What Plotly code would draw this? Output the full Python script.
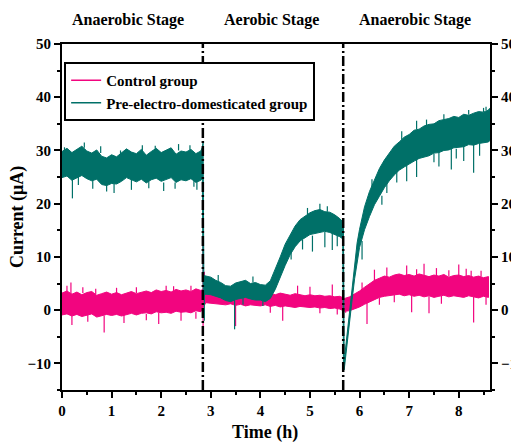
import plotly.graph_objects as go

# ---------------- data ----------------
stage_labels = ["Anaerobic Stage", "Aerobic Stage", "Anaerobic Stage"]
stage_centers = [1.33, 4.23, 7.12]
stage_switch = [2.84, 5.67]

# Pre-electro-domesticated group: noisy band (lower / upper envelope)
teal_t = [0.0, 0.1, 0.2, 0.3, 0.4, 0.5, 0.6, 0.7, 0.8, 0.9,
          1.0, 1.1, 1.2, 1.3, 1.4, 1.5, 1.6, 1.7, 1.8, 1.9,
          2.0, 2.1, 2.2, 2.3, 2.4, 2.5, 2.6, 2.7, 2.8, 2.83,
          2.845, 2.86,
          2.9, 3.0, 3.1, 3.2, 3.3, 3.4, 3.5, 3.6, 3.7, 3.8, 3.9,
          4.0, 4.1, 4.2, 4.3, 4.4, 4.5, 4.6, 4.7, 4.8, 4.9,
          5.0, 5.1, 5.2, 5.3, 5.4, 5.5, 5.6, 5.66,
          5.675, 5.69,
          5.75, 5.8, 5.85, 5.9, 5.95, 6.0,
          6.1, 6.2, 6.3, 6.4, 6.5, 6.6, 6.7, 6.8, 6.9, 7.0,
          7.1, 7.2, 7.3, 7.4, 7.5, 7.6, 7.7, 7.8, 7.9, 8.0,
          8.1, 8.2, 8.3, 8.4, 8.5, 8.6, 8.62]
teal_hi = [29.8, 30.4, 29.6, 30.2, 30.8, 29.9, 29.5, 30.1, 28.9, 28.6,
           29.2, 28.8, 29.6, 30.3, 29.7, 29.4, 30.2, 29.1, 29.8, 30.4,
           29.6, 30.0, 30.5, 29.3, 29.9, 29.7, 30.2, 29.4, 29.9, 30.6,
           31.5, 6.5,
           6.4, 6.2, 5.6, 5.2, 4.6, 4.5, 5.1, 5.3, 5.6, 5.0, 5.2,
           4.8, 4.7, 5.5, 7.6, 10.0, 12.4, 14.2, 15.8, 17.0, 17.6,
           18.3, 18.7, 18.9, 18.5, 18.4, 17.9, 17.2, 16.6,
           15.5, -9.5,
           -4.5, 0.2, 4.8, 8.9, 12.6, 15.2,
           19.4, 22.3, 24.6, 26.6, 28.2, 29.6, 30.8, 31.6, 32.5, 33.0,
           33.8, 34.0, 34.6, 34.9, 35.0, 35.6, 35.8, 36.0, 36.4, 36.2,
           36.8, 36.6, 37.0, 37.3, 37.2, 37.6, 37.9]
teal_lo = [24.9, 25.2, 24.4, 24.9, 25.3, 24.7, 24.3, 24.6, 23.6, 23.4,
           23.8, 23.7, 24.2, 24.9, 24.5, 24.1, 24.6, 23.9, 24.5, 24.8,
           24.2, 24.6, 24.9, 24.0, 24.5, 24.3, 24.7, 24.0, 24.4, 24.8,
           3.5, 2.8,
           3.0, 2.9, 2.6, 2.3, 1.8, 1.6, 2.0, 2.2, 2.4, 2.1, 1.9,
           1.9, 1.6, 2.2, 3.9, 6.3, 8.4, 10.4, 11.9, 13.0, 13.6,
           14.2, 14.4, 14.6, 14.8, 14.6, 14.2, 13.8, 13.4,
           -10.8, -11.2,
           -6.5, -2.2, 2.0, 5.9, 9.2, 11.8,
           15.1, 17.6, 19.8, 21.4, 23.0, 24.3, 25.4, 26.3, 26.9, 27.5,
           28.0, 28.5, 28.8, 29.0, 29.5, 29.6, 30.0, 30.1, 30.5, 30.6,
           30.7, 31.1, 31.0, 31.3, 31.5, 31.6, 31.8]

# Control group: noisy band
pink_t = [round(0.1 * i, 1) for i in range(87)]
pink_hi = [3.2, 3.6, 3.0, 3.4, 2.9, 3.3, 3.5, 2.8, 3.1, 3.4,
           3.0, 3.3, 2.9, 3.2, 3.5, 3.1, 3.4, 3.6, 3.3, 3.8,
           3.5, 3.7, 3.4, 3.9, 3.6, 3.8, 3.5, 4.0, 3.7, 4.2,
           3.8, 3.6, 3.4, 3.3, 3.5, 3.2, 3.4, 3.1, 3.3, 3.0,
           3.2, 3.0, 3.1, 2.9, 3.2, 3.0, 2.8, 3.1, 2.9, 2.7,
           2.9, 2.7, 2.8, 2.6, 2.7, 2.5, 2.6, 2.2, 2.5, 3.0,
           3.6, 4.3, 5.0, 5.6, 6.0, 6.4, 6.2, 6.6, 6.8, 6.5,
           6.7, 6.4, 6.8, 6.5, 6.3, 6.6, 6.4, 6.7, 6.2, 6.5,
           6.6, 6.3, 6.5, 6.2, 6.4, 6.1, 6.3]
pink_lo = [-0.9, -0.7, -1.1, -0.8, -1.2, -0.9, -0.7, -1.3, -1.0, -0.8,
           -1.0, -0.8, -1.1, -0.9, -0.6, -0.9, -0.6, -0.5, -0.7, -0.3,
           -0.5, -0.4, -0.6, -0.2, -0.4, -0.3, -0.5, -0.1, -0.3, 1.4,
           1.3, 1.2, 1.1, 1.0, 1.2, 0.9, 1.1, 0.8, 1.0, 0.9,
           0.8, 1.0, 0.7, 0.9, 0.6, 0.8, 0.7, 0.5, 0.7, 0.6,
           0.5, 0.6, 0.4, 0.5, 0.3, 0.4, 0.2, -0.2, -0.1, 0.2,
           0.6, 1.1, 1.6, 2.0, 2.4, 2.6, 2.8, 2.9, 3.0, 2.7,
           2.9, 2.6, 2.8, 2.5, 2.7, 2.4, 2.6, 2.8, 2.5, 2.7,
           2.6, 2.4, 2.7, 2.5, 2.3, 2.6, 2.4]

# isolated spikes: time, start value, end value
pink_spike_t = [0.18, 0.2, 0.52, 0.85, 1.25, 1.95, 2.4, 2.845, 2.87, 2.95, 3.5, 4.45,
                4.75, 5.0, 5.45, 5.72, 6.15, 6.3, 6.55, 6.95, 7.3, 7.55, 7.05, 7.4,
                8.0, 8.15, 8.3, 8.45,
                0.1, 0.42, 0.68, 1.1, 1.5, 1.7, 2.1, 2.25, 2.6, 2.7, 3.2, 3.9,
                4.2, 5.2, 5.55, 6.05, 6.4, 6.7, 7.15, 7.8, 7.65, 8.25, 8.55]
pink_spike_from = [3.0, -1.0, -0.8, -1.0, -0.8, -0.5, -0.3, -3.5, 4.0, 3.5, 1.0, 0.7,
                   2.9, 2.9, 2.6, 1.0, 1.5, 5.5, 6.2, 6.5, 6.5, 6.5, 3.0, 2.6,
                   6.5, 6.4, 2.5, 6.3,
                   3.5, 3.2, 3.0, 3.2, 3.2, -0.7, 3.6, 3.5, 3.6, -0.3, 3.3, 3.0,
                   0.8, 0.4, 0.3, 3.8, 2.4, 2.9, 6.6, 6.3, 2.7, 6.4, 2.5]
pink_spike_to = [5.2, -2.8, -2.2, -4.2, -2.4, -2.6, -2.0, 13.0, 7.2, 5.8, -3.0, -2.0,
                 4.6, 4.4, 4.8, -0.5, -2.6, 7.6, 8.0, 8.4, 8.7, 7.9, -0.4, -0.6,
                 8.6, 7.8, -2.3, 7.4,
                 4.6, 4.3, 4.0, 4.2, 4.3, -1.9, 4.6, 4.5, 4.6, -1.6, 4.3, 4.1,
                 -0.5, -0.6, -0.8, 5.2, 1.0, 1.5, 7.7, 7.5, 1.2, 7.4, 1.0]

teal_spike_t = [0.21, 0.45, 0.62, 0.9, 1.4, 2.05, 2.72, 2.87, 3.48, 4.85, 5.05, 5.3,
                5.45, 5.55, 6.05, 6.55, 6.75, 6.95, 7.15, 7.15, 7.6, 7.85, 8.1, 8.3, 8.55,
                0.05, 0.33, 0.78, 1.05, 1.18, 1.62, 1.75, 1.88, 2.28, 2.35, 2.58, 2.66,
                3.15, 3.65, 3.85, 4.05, 4.62, 4.95, 5.2, 5.35, 6.25, 6.45, 6.85, 7.35,
                7.5, 7.7, 7.95, 8.2, 8.42, 8.5]
teal_spike_from = [24.5, 30.5, 24.5, 23.5, 24.8, 24.0, 24.5, 3.0, 2.0, 13.2, 14.0, 14.7,
                   14.5, 14.0, 13.0, 24.5, 26.0, 27.5, 28.5, 34.0, 30.0, 30.5, 31.0, 31.2, 37.5,
                   29.5, 25.0, 29.5, 23.8, 28.8, 29.8, 24.2, 29.6, 24.0, 30.0, 30.0, 24.5,
                   5.4, 2.3, 5.2, 1.8, 11.0, 18.0, 18.8, 18.5, 23.0, 21.5, 32.0, 34.6,
                   29.4, 35.8, 30.3, 36.7, 31.3, 37.2]
teal_spike_to = [21.0, 31.5, 22.8, 22.3, 22.6, 22.4, 22.6, -2.0, -3.6, 11.4, 11.0, 11.8,
                 11.3, 12.0, 9.5, 22.0, 24.0, 24.2, 25.0, 35.6, 27.0, 26.4, 28.0, 25.8, 38.2,
                 30.6, 23.5, 30.8, 22.0, 30.0, 31.0, 22.9, 30.9, 22.8, 31.2, 31.0, 23.2,
                 6.6, 1.0, 6.3, 0.8, 9.5, 19.2, 20.0, 19.5, 24.6, 19.8, 33.6, 35.8,
                 27.8, 36.8, 28.5, 37.6, 29.0, 38.0]

series_names = ["Control group", "Pre-electro-domesticated group"]
PINK = "#f2057f"
TEAL = "#007068"

FONT = "Liberation Serif, Times New Roman, serif"

fig = go.Figure()


def band(t, lo, hi, color):
    fig.add_trace(go.Scatter(
        x=list(t) + list(t)[::-1], y=list(hi) + list(lo)[::-1],
        fill="toself", fillcolor=color, mode="lines",
        line=dict(color=color, width=1), showlegend=False, hoverinfo="skip"))


def spikes(st, sf, sto, color):
    xs, ys = [], []
    for a, b, c in zip(st, sf, sto):
        xs += [a, a, None]
        ys += [b, c, None]
    fig.add_trace(go.Scatter(x=xs, y=ys, mode="lines",
                             line=dict(color=color, width=1.2),
                             showlegend=False, hoverinfo="skip"))


band(pink_t, pink_lo, pink_hi, PINK)
spikes(pink_spike_t, pink_spike_from, pink_spike_to, PINK)
band(teal_t, teal_lo, teal_hi, TEAL)
spikes(teal_spike_t, teal_spike_from, teal_spike_to, TEAL)

for name, col in zip(series_names, [PINK, TEAL]):
    fig.add_trace(go.Scatter(x=[None], y=[None], mode="lines", name=name,
                             line=dict(color=col, width=1.5)))

# invisible trace for right axis
fig.add_trace(go.Scatter(x=[None], y=[None], yaxis="y2", showlegend=False))

for xs in stage_switch:
    fig.add_shape(type="line", x0=xs, x1=xs, y0=0, y1=1, xref="x", yref="paper",
                  line=dict(color="black", width=2.5, dash="10px,3px,2px,3px"), layer="above")

for lab, xc in zip(stage_labels, stage_centers):
    fig.add_annotation(x=xc, y=1.069, xref="x", yref="paper", text=lab, showarrow=False,
                       font=dict(family=FONT, size=16, color="black", weight="bold"),
                       xanchor="center", yanchor="middle")

fig.add_annotation(x=-0.105, y=0.5, xref="paper", yref="paper", text="Current (μA)",
                   textangle=-90, showarrow=False, xanchor="center", yanchor="middle",
                   font=dict(family=FONT, size=18, color="black", weight="bold"))
fig.add_annotation(x=0.474, y=-0.124, xref="paper", yref="paper", text="Time (h)",
                   showarrow=False, xanchor="center", yanchor="middle",
                   font=dict(family=FONT, size=18, color="black", weight="bold"))

tickfont = dict(family=FONT, size=15, color="black", weight="bold")
yr = [-15, 50]
yt = [-10, 0, 10, 20, 30, 40, 50]
yminor = [-15, -5, 5, 15, 25, 35, 45]
# the page body adds an 8px offset, so margins are shifted to compensate
fig.update_layout(
    width=519, height=443,
    margin=dict(l=54, r=37, t=36, b=61, autoexpand=False),
    plot_bgcolor="white", paper_bgcolor="white",
    xaxis=dict(range=[0, 8.63], tickvals=list(range(9)), showline=True, linecolor="black",
               linewidth=2, mirror=True, ticks="outside", ticklen=6, tickwidth=2,
               tickcolor="black", tickfont=tickfont, showgrid=False, zeroline=False,
               minor=dict(tickvals=[0.5 + i for i in range(9)], ticks="outside",
                          ticklen=3, tickwidth=2, tickcolor="black")),
    yaxis=dict(range=yr, tickvals=yt, showline=True,
               linecolor="black", linewidth=2, ticks="outside", ticklen=6, tickwidth=2,
               tickcolor="black", tickfont=tickfont, showgrid=False, zeroline=False,
               minor=dict(tickvals=yminor, ticks="outside",
                          ticklen=3, tickwidth=2, tickcolor="black")),
    yaxis2=dict(range=yr, overlaying="y", side="right", tickvals=yt,
                showline=True, linecolor="black", linewidth=2, ticks="outside", ticklen=6,
                tickwidth=2, tickcolor="black", tickfont=tickfont, showgrid=False,
                zeroline=False,
                minor=dict(tickvals=yminor, ticks="outside",
                           ticklen=3, tickwidth=2, tickcolor="black")),
    legend=dict(x=0.005, y=0.948, xanchor="left", yanchor="top",
                bordercolor="black", borderwidth=2, bgcolor="white",
                font=dict(family=FONT, size=15, color="black", weight="bold"),
                tracegroupgap=0),
    showlegend=True,
)

fig.write_html("out.html")
